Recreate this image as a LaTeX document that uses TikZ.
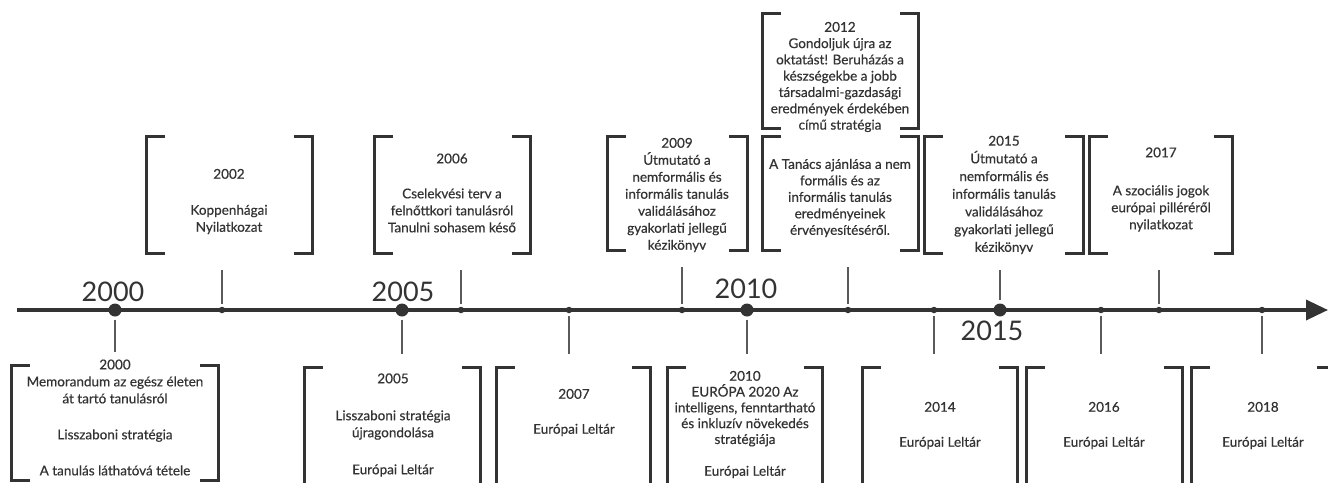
\documentclass[tikz,border=0pt]{standalone}
\usepackage{fontspec}
\setmainfont{Lato}
\newfontfamily\boxfont{Lato}[FakeBold=0.5]
\usetikzlibrary{positioning,arrows.meta}
\definecolor{inkdark}{RGB}{51,51,51}
\definecolor{tickgray}{RGB}{90,90,90}
\tikzset{
  axis/.style={line width=3.5pt, draw=inkdark, -{Triangle[length=22pt,width=20pt]}},
  bigdot/.style={circle, fill=inkdark, minimum size=13pt, inner sep=0pt},
  smalldot/.style={circle, fill=inkdark, minimum size=6.5pt, inner sep=0pt},
  tick/.style={draw=tickgray, line width=1.2pt},
  frame/.style={draw=none, inner sep=0pt},
  brk/.style={draw=inkdark, line width=3pt},
  txt/.style={align=center, inner sep=0pt, text=inkdark, font=\boxfont\fontsize{13.5}{17}\selectfont},
  yearlbl/.style={inner sep=0pt, text=inkdark, font=\fontsize{27}{27}\selectfont}
}
\newcommand{\bracketpair}[1]{%
  \draw[brk] ([xshift=18pt]#1.north west) -| (#1.south west) -- ++(18,0);
  \draw[brk] ([xshift=-18pt]#1.north east) -| (#1.south east) -- ++(-18,0);}

\begin{document}
\begin{tikzpicture}[x=1pt, y=-1pt]
  \useasboundingbox (0,0) rectangle (1328,482);
  \clip (0,0) rectangle (1328,482);

  % Time axis
  \coordinate (axstart) at (17,310);
  \coordinate (axend) at (1328,310);
  \draw[axis] (axstart) -- (axend);

  % Dots on the axis
  \node[bigdot] (d2000) at (115,310) {};
  \node[bigdot] (d2005) at (402,310) {};
  \node[bigdot] (d2010) at (747,310) {};
  \node[bigdot] (d2015) at (1000,310) {};
  \node[smalldot] (d2002) at (222,310) {};
  \node[smalldot] (d2006) at (461,310) {};
  \node[smalldot] (d2007) at (569,310) {};
  \node[smalldot] (d2009) at (682,310) {};
  \node[smalldot] (d2012) at (848,310) {};
  \node[smalldot] (d2014) at (934,310) {};
  \node[smalldot] (d2016) at (1101,310) {};
  \node[smalldot] (d2017) at (1159,310) {};
  \node[smalldot] (d2018) at (1262,310) {};

  % Big year labels
  \node[yearlbl] (y2000) at (113,292) {2000};
  \node[yearlbl] (y2005) at (403,292) {2005};
  \node[yearlbl] (y2010) at (746,289) {2010};
  \node[yearlbl] (y2015) at (992,331) {2015};

  % Frames above the axis
  \node[frame, minimum width=165pt, minimum height=116pt] (f2002) at (229.5,195) {};
  \node[frame, minimum width=155pt, minimum height=116pt] (f2006) at (452.5,195) {};
  \node[frame, minimum width=139pt, minimum height=113pt] (f2009) at (677.5,193.5) {};
  \node[frame, minimum width=155pt, minimum height=114pt] (f2012a) at (840.5,71) {};
  \node[frame, minimum width=155pt, minimum height=113pt] (f2012b) at (840.5,193.5) {};
  \node[frame, minimum width=158pt, minimum height=116pt] (f2015) at (1004,195) {};
  \node[frame, minimum width=142pt, minimum height=116pt] (f2017) at (1161,195) {};

  % Frames below the axis
  \node[frame, minimum width=206pt, minimum height=114pt] (f2000) at (115,423) {};
  \node[frame, minimum width=175pt, minimum height=132pt] (f2005) at (392.5,434) {};
  \node[frame, minimum width=153pt, minimum height=132pt] (f2007) at (573.5,434) {};
  \node[frame, minimum width=154pt, minimum height=132pt] (f2010) at (745,434) {};
  \node[frame, minimum width=154pt, minimum height=132pt] (f2014) at (940,434) {};
  \node[frame, minimum width=155pt, minimum height=132pt] (f2016) at (1104.5,434) {};
  \node[frame, minimum width=143pt, minimum height=132pt] (f2018) at (1263.5,434) {};

  \foreach \f in {f2002,f2006,f2009,f2012a,f2012b,f2015,f2017,
                  f2000,f2005,f2007,f2010,f2014,f2016,f2018}{
    \bracketpair{\f}
  }

  % Texts above
  \node[txt] (t2002) at (229,201.5) {2002\\[19pt]Koppenhágai\\Nyilatkozat};
  \node[txt] (t2006) at (452,193) {2006\\[18pt]Cselekvési terv a\\felnőttkori tanulásról\\Tanulni sohasem késő};
  \node[txt] (t2009) at (677,195) {2009\\Útmutató a\\nemformális és\\informális tanulás\\validálásához\\gyakorlati jellegű\\kézikönyv};
  \node[txt, font=\boxfont\fontsize{13.5}{16.3}\selectfont] (t2012a) at (840,77)
    {2012\\Gondoljuk újra az\\oktatást! Beruházás a\\készségekbe a jobb\\társadalmi-gazdasági\\eredmények érdekében\\című stratégia};
  \node[txt, font=\boxfont\fontsize{13.5}{16.5}\selectfont] (t2012b) at (840,198)
    {A Tanács ajánlása a nem\\formális és az\\informális tanulás\\eredményeinek\\érvényesítéséről.};
  \node[txt, font=\boxfont\fontsize{13.5}{17.7}\selectfont] (t2015) at (1004,195)
    {2015\\Útmutató a\\nemformális és\\informális tanulás\\validálásához\\gyakorlati jellegű\\kézikönyv};
  \node[txt] (t2017) at (1161,189.5) {2017\\[21pt]A szociális jogok\\európai pilléréről\\nyilatkozat};

  % Texts below
  \node[txt] (t2000) at (115,417.5) {2000\\Memorandum az egész életen\\át tartó tanulásról\\[19pt]Lisszaboni stratégia\\[19pt]A tanulás láthatóvá tétele};
  \node[txt] (t2005) at (393,425) {2005\\[20pt]Lisszaboni stratégia\\újragondolása\\[20pt]Európai Leltár};
  \node[txt] (t2007) at (574,412.5) {2007\\[18pt]Európai Leltár};
  \node[txt, font=\boxfont\fontsize{13.5}{15.8}\selectfont] (t2010) at (745,424.5)
    {2010\\EURÓPA 2020 Az\\intelligens, fenntartható\\és inkluzív növekedés\\stratégiája\\[16pt]Európai Leltár};
  \node[txt] (t2014) at (940,425.5) {2014\\[18pt]Európai Leltár};
  \node[txt] (t2016) at (1104,425.5) {2016\\[18pt]Európai Leltár};
  \node[txt] (t2018) at (1263,425.5) {2018\\[18pt]Európai Leltár};

  % Ticks from the axis up to the frames
  \foreach \y/\f in {2002/f2002,2006/f2006,2009/f2009,2012/f2012b,2015/f2015,2017/f2017}{
    \draw[tick, shorten <=3pt, shorten >=17pt] (d\y) -- (d\y |- \f.south);
  }
  % Ticks from the axis down to the frames
  \foreach \y/\f in {2000/f2000,2005/f2005,2007/f2007,2010/f2010,2014/f2014,2016/f2016,2018/f2018}{
    \draw[tick, shorten <=3pt, shorten >=14pt] (d\y) -- (d\y |- \f.north);
  }
\end{tikzpicture}
\end{document}
